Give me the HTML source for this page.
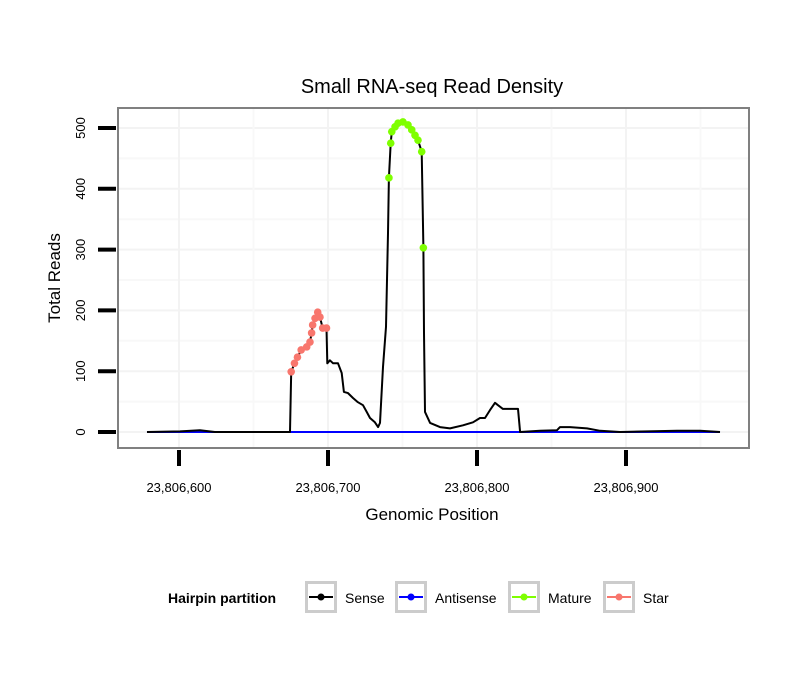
<!DOCTYPE html>
<html><head><meta charset="utf-8"><style>
body{margin:0;background:#fff;}
svg{display:block;font-family:"Liberation Sans",sans-serif;}
</style></head><body>
<svg id="chart" width="810" height="690">
<rect width="810" height="690" fill="#fff"/>
<text x="432" y="93" font-size="20" text-anchor="middle">Small RNA-seq Read Density</text>
<g id="grid"></g>
<g id="marks"></g>
<rect x="118" y="108" width="631" height="340" fill="none" stroke="#808080" stroke-width="2"/>
<g id="axes"></g>
<text x="432" y="520" font-size="17" text-anchor="middle">Genomic Position</text>
<text transform="translate(60,278) rotate(-90)" font-size="17" text-anchor="middle">Total Reads</text>
<g>
<text x="168" y="603" font-size="14" font-weight="bold">Hairpin partition</text>
<g id="legend"></g>
</g>
</svg>
<script>
const xTicks=[23806600,23806700,23806800,23806900];
const yTicks=[0,100,200,300,400,500];
const base=23806000;
const positions=[578.5,600.7,614,624,674.5,675.3,677.5,679.5,682,685.7,687.9,689,689.7,691.3,693.1,694.6,696.4,699,699.5,701.3,703.4,706.7,709.2,710.7,713.4,716.8,720.1,723.5,726,728.2,731.5,733.6,734.9,736.9,738.9,740.3,740.9,742.1,742.8,745,747,750.3,753.7,756.2,758.4,760.4,762.9,764,764.4,765.1,768.5,775.2,781.9,790.6,797.3,802,805.4,808.7,812.1,814.1,817.4,827.5,828.9,842.3,853.7,855.7,862.4,873.8,882.6,896,934.2,949.7,963.1];
const reads=[0,1,3,0,0,99,113,123,135,140,148,163,176,187,197,189,171,171,113,118,113,113,97,66,64,56,49,44,33,23,16,8,15,107,173,327,418,475,494,502,508,510,505,497,488,480,461,303,163,33,15,8,6,11,16,23,23,36,48,44,38,38,0,2,3,8,8,6,2,0,2,2,0];
const partition=["S","S","S","S","S","R","R","R","R","R","R","R","R","R","R","R","R","R","S","S","S","S","S","S","S","S","S","S","S","S","S","S","S","S","S","S","M","M","M","M","M","M","M","M","M","M","M","M","S","S","S","S","S","S","S","S","S","S","S","S","S","S","S","S","S","S","S","S","S","S","S","S","S"];
const antisenseRange=[578.5,963.1];
const legendLabels=["Sense","Antisense","Mature","Star"];
const legendColors=["#000","#0000ff","#7fff00","#f8766d"];
const ns="http://www.w3.org/2000/svg";
function xs(p){return 179+(p-600)*1.49;}
function ys(v){return 432-v*0.608;}
function el(t,a,parent){const e=document.createElementNS(ns,t);for(const k in a)e.setAttribute(k,a[k]);parent.appendChild(e);return e;}
const grid=document.getElementById('grid'),marks=document.getElementById('marks'),axes=document.getElementById('axes');
for(let i=0;i<yTicks.length;i++){
  const g=el('line',{x1:118,x2:749,y1:ys(yTicks[i]),y2:ys(yTicks[i]),stroke:'#f3f3f3','stroke-width':2},grid);
  
  
  const ym=ys(yTicks[i]+50);
  if(ym>109){
    const m=el('line',{x1:118,x2:749,y1:ym,y2:ym,stroke:'#f8f8f8','stroke-width':2},grid);
    
    
  }
}
for(let i=0;i<xTicks.length;i++){
  const p=xTicks[i]-base;
  const g=el('line',{x1:xs(p),x2:xs(p),y1:108,y2:448,stroke:'#f3f3f3','stroke-width':2},grid);
  
  
  [p-50,p+50].forEach(q=>{if(xs(q)>118&&xs(q)<749){const m=el('line',{x1:xs(q),x2:xs(q),y1:108,y2:448,stroke:'#f8f8f8','stroke-width':2},grid);
  
  }});
}
const a=el('line',{x1:xs(antisenseRange[0]),x2:xs(antisenseRange[1]),y1:ys(0),y2:ys(0),stroke:'#0000ff','stroke-width':2},marks);


const d=positions.map((p,i)=>(i?'L':'M')+xs(p).toFixed(1)+','+ys(reads[i]).toFixed(1)).join(' ');
const l=el('path',{d:d,fill:'none',stroke:'#000','stroke-width':2,'stroke-linejoin':'round'},marks);


for(let i=0;i<positions.length;i++){
  if(partition[i]==='S')continue;
  const c=el('circle',{cx:xs(positions[i]),cy:ys(reads[i]),r:3.8,fill:partition[i]==='M'?'#7fff00':'#f8766d'},marks);
  
  
}
for(let i=0;i<yTicks.length;i++){
  const y=ys(yTicks[i]);
  const t=el('line',{x1:98,x2:116,y1:y,y2:y,stroke:'#000','stroke-width':4},axes);
  
  
  const tx=el('text',{transform:`translate(85,${y}) rotate(-90)`,'font-size':13,'text-anchor':'middle'},axes);
  tx.textContent=yTicks[i];
  
  
}
for(let i=0;i<xTicks.length;i++){
  const x=xs(xTicks[i]-base);
  const t=el('line',{x1:x,x2:x,y1:450,y2:466,stroke:'#000','stroke-width':4},axes);
  
  
  const tx=el('text',{x:x,y:492,'font-size':13,'text-anchor':'middle'},axes);
  tx.textContent=xTicks[i].toLocaleString('en-US');
  
  
}
const lg=document.getElementById('legend');
const boxX=[305,395,508,603];
for(let i=0;i<legendLabels.length;i++){
  const g=el('g',{},lg);
  
  
  el('rect',{x:boxX[i]+1.5,y:582.5,width:29,height:29,fill:'#fff',stroke:'#cccccc','stroke-width':3},g);
  el('line',{x1:boxX[i]+4,x2:boxX[i]+28,y1:597,y2:597,stroke:legendColors[i],'stroke-width':2},g);
  el('circle',{cx:boxX[i]+16,cy:597,r:3.5,fill:legendColors[i]},g);
  const t=el('text',{x:boxX[i]+40,y:603,'font-size':14},g);
  t.textContent=legendLabels[i];
}
</script>
</body></html>
